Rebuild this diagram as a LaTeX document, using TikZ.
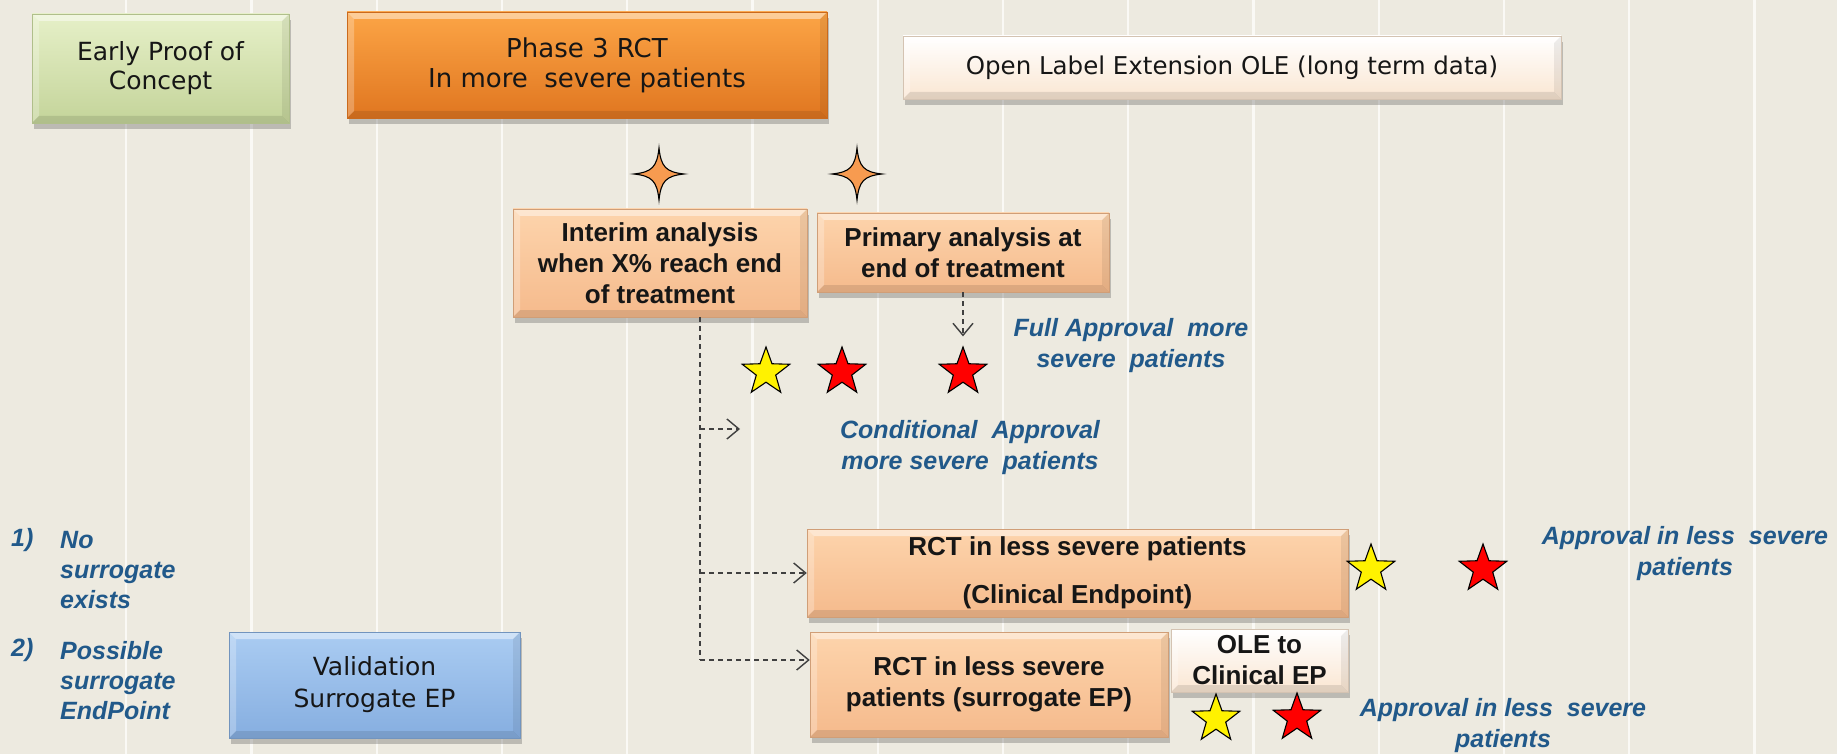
\documentclass[tikz,border=0pt]{standalone}
\usepackage{fontspec}
\setmainfont{Liberation Sans}
\newfontfamily\tah{DejaVu Sans}
\usetikzlibrary{shapes.geometric,shadows,arrows.meta}
\definecolor{bg}{RGB}{237,234,224}
\definecolor{gridc}{RGB}{250,249,245}
\definecolor{txt}{RGB}{22,22,22}
\definecolor{lab}{RGB}{33,89,138}
\definecolor{gTop}{RGB}{230,240,200}
\definecolor{gMid}{RGB}{210,226,170}
\definecolor{gBot}{RGB}{196,212,154}
\definecolor{oTop}{RGB}{252,165,70}
\definecolor{oMid}{RGB}{246,142,40}
\definecolor{oBot}{RGB}{224,118,32}
\definecolor{wTop}{RGB}{255,255,255}
\definecolor{wMid}{RGB}{255,246,236}
\definecolor{wBot}{RGB}{250,230,210}
\definecolor{pTop}{RGB}{253,212,172}
\definecolor{pMid}{RGB}{251,201,156}
\definecolor{pBot}{RGB}{245,186,140}
\definecolor{bTop}{RGB}{170,204,242}
\definecolor{bMid}{RGB}{152,190,236}
\definecolor{bBot}{RGB}{134,174,224}
\definecolor{sparkc}{RGB}{247,155,80}
\begin{document}
\begin{tikzpicture}[x=1pt,y=-1pt,
  gridline/.style={draw=gridc, line width=2.2pt},
  bevel/.style={path picture={
    \fill[white,opacity=0.45] (path picture bounding box.north west) -- (path picture bounding box.north east)
      -- ([xshift=-7pt,yshift=-7pt]path picture bounding box.north east) -- ([xshift=7pt,yshift=-7pt]path picture bounding box.north west) -- cycle;
    \fill[white,opacity=0.25] (path picture bounding box.north west) -- ([xshift=7pt,yshift=-7pt]path picture bounding box.north west)
      -- ([xshift=7pt,yshift=7pt]path picture bounding box.south west) -- (path picture bounding box.south west) -- cycle;
    \fill[black,opacity=0.10] (path picture bounding box.south west) -- (path picture bounding box.south east)
      -- ([xshift=-7pt,yshift=7pt]path picture bounding box.south east) -- ([xshift=7pt,yshift=7pt]path picture bounding box.south west) -- cycle;
    \fill[black,opacity=0.07] (path picture bounding box.north east) -- (path picture bounding box.south east)
      -- ([xshift=-7pt,yshift=7pt]path picture bounding box.south east) -- ([xshift=-7pt,yshift=-7pt]path picture bounding box.north east) -- cycle;
  }},
  box/.style={rectangle, inner sep=0pt, align=center, text=txt, bevel,
    drop shadow={opacity=0.3, shadow xshift=2pt, shadow yshift=-6pt, fill=black!70}},
  greenbox/.style={box, top color=gTop, middle color=gMid, bottom color=gBot, draw=gBot!90!black, line width=0.5pt},
  orangebox/.style={box, top color=oTop, middle color=oMid, bottom color=oBot, draw=oBot!90!black, line width=0.5pt},
  whitebox/.style={box, top color=wTop, middle color=wMid, bottom color=wBot, draw=wBot!85!black, line width=0.5pt},
  peachbox/.style={box, top color=pTop, middle color=pMid, bottom color=pBot, draw=pBot!85!black, line width=0.5pt},
  bluebox/.style={box, top color=bTop, middle color=bMid, bottom color=bBot, draw=bBot!85!black, line width=0.5pt},
  regtext/.style={font=\tah\fontsize{25}{29}\selectfont},
  boldtext/.style={font=\fontsize{26}{31}\selectfont\bfseries},
  bluelab/.style={font=\fontsize{25}{31}\selectfont\bfseries\itshape, text=lab, align=center, inner sep=0pt},
  listlab/.style={font=\fontsize{25}{30}\selectfont\bfseries\itshape, text=lab, align=left, inner sep=0pt},
  starnode/.style={star, star points=5, star point ratio=2.45, minimum size=50pt, inner sep=0pt, draw=black, line width=1.1pt},
  dl/.style={dash pattern=on 5pt off 4pt, line width=1.3pt, draw=black!75},
  arr/.style={dl, -{Straight Barb[length=12pt,width=20pt,line width=1.4pt]}},
  sparkle/.pic={\filldraw[fill=sparkc, draw=black, line width=1.1pt]
     (0,-26) .. controls (2,-7) and (7,-2) .. (25,0)
     .. controls (7,2) and (2,7) .. (0,26)
     .. controls (-2,7) and (-7,2) .. (-25,0)
     .. controls (-7,-2) and (-2,-7) .. cycle;}
]
\fill[bg] (0,0) rectangle (1837,754);
\useasboundingbox (0,0) rectangle (1837,754);
\foreach \k in {1,...,14} \draw[gridline] ({125.25*\k+1},0) -- ({125.25*\k+1},754);

% top boxes
\node[greenbox, regtext, minimum width=257pt, minimum height=109pt] (poc) at (160.5,68.5) {Early Proof of\\Concept};
\node[orangebox, font=\tah\fontsize{26}{30}\selectfont, minimum width=480pt, minimum height=106pt] (ph3) at (587,65) {Phase 3 RCT\\In more~ severe patients};
\node[whitebox, font=\tah\fontsize{24.5}{29}\selectfont, minimum width=658pt, minimum height=63pt] (ole) at (1232,67.5) {Open Label Extension OLE (long term data)};

% sparkles
\pic at (659,174) {sparkle};
\pic at (857,174) {sparkle};

% analysis boxes
\node[peachbox, boldtext, minimum width=294pt, minimum height=108pt] (interim) at (660,263) {Interim analysis\\when X\% reach end\\of treatment};
\node[peachbox, boldtext, minimum width=292pt, minimum height=79pt] (primary) at (963,252.5) {Primary analysis at\\end of treatment};

% stars middle
\node[starnode, fill=yellow] (s1) at (766,372) {};
\node[starnode, fill=red] (s2) at (842,372) {};
\node[starnode, fill=red] (s3) at (963,372) {};

% labels
\node[bluelab] (fullap) at (1131,346) {Full Approval~ more\\severe~ patients};
\node[bluelab] (condap) at (970,447.5) {Conditional~ Approval\\more severe~ patients};

% lower boxes
\node[peachbox, boldtext, minimum width=541pt, minimum height=88pt] (rctcl) at (1077.5,573) {RCT in less severe patients\\[17pt](Clinical Endpoint)};
\node[peachbox, boldtext, minimum width=358pt, minimum height=105pt] (rctsur) at (989,684.5) {RCT in less severe\\patients (surrogate EP)};
\node[whitebox, boldtext, minimum width=177pt, minimum height=63pt] (oleto) at (1259.5,660.5) {OLE to\\Clinical EP};
\node[bluebox, font=\tah\fontsize{25}{32}\selectfont, minimum width=291pt, minimum height=106pt] (valid) at (374.5,685) {Validation\\Surrogate EP};

% stars lower
\node[starnode, fill=yellow] (s4) at (1371,569) {};
\node[starnode, fill=red] (s5) at (1483,569) {};
\node[starnode, fill=yellow] (s6) at (1216,719) {};
\node[starnode, fill=red] (s7) at (1297,718) {};

\node[bluelab] (apl1) at (1685,554) {Approval in less~ severe\\patients};
\node[bluelab] (apl2) at (1503,726) {Approval in less~ severe\\patients};

% left list
\node[listlab, anchor=west] (n1) at (11,540) {1)};
\node[listlab, anchor=west] (t1) at (60,570) {No\\surrogate\\exists};
\node[listlab, anchor=west] (n2) at (11,650) {2)};
\node[listlab, anchor=west] (t2) at (60,681) {Possible\\surrogate\\EndPoint};

% connectors
\coordinate (b0) at (700,429);
\coordinate (b1) at (700,573);
\coordinate (b2) at (700,660);
\coordinate (cond) at (740,429);
\draw[dl] (interim.south -| b0) -- (b2);
\draw[arr] (b0) -- (cond);
\draw[arr] (b1) -- (b1 -| rctcl.west);
\draw[arr] (b2) -- (b2 -| rctsur.west);
\draw[arr] (primary.south) -- ([yshift=9pt]s3.north);
\end{tikzpicture}
\end{document}
